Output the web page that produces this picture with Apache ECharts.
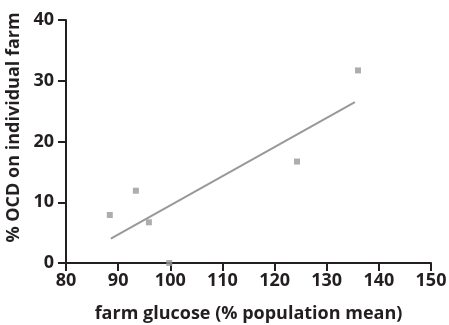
<!DOCTYPE html>
<html>
<head>
<meta charset="utf-8">
<script src="https://cdn.jsdelivr.net/npm/echarts@6/dist/echarts.min.js"></script>
<style>
  html, body { margin: 0; padding: 0; background: #fff; }
  #chart { width: 449px; height: 325px; }
</style>
</head>
<body>
<div id="chart"></div>
<script>
// farm glucose (% population mean) vs % OCD
var glucose = [88.4, 93.4, 95.9, 99.8, 124.3, 136.0];
var ocd = [7.9, 11.9, 6.7, 0.0, 16.7, 31.7];
var fitLine = [[88.6, 4.0], [135.4, 26.5]];

var points = glucose.map(function (g, i) { return [g, ocd[i]]; });

var ink = '#231f20';
var font = 'Open Sans';

var chart = echarts.init(document.getElementById('chart'));

var option = {
  animation: false,
  grid: {
    left: 66,
    right: 18,
    top: 20,
    bottom: 62,
    outerBoundsMode: 'none'
  },
  xAxis: {
    type: 'value',
    min: 80,
    max: 150,
    interval: 10,
    name: 'farm glucose (% population mean)',
    nameLocation: 'middle',
    nameGap: 42,
    nameTextStyle: { color: ink, fontFamily: font, fontWeight: 'bold', fontSize: 18 },
    axisLine: { lineStyle: { color: ink, width: 2 } },
    axisTick: { length: 8, lineStyle: { color: ink, width: 2 } },
    axisLabel: { color: ink, fontFamily: font, fontWeight: 'bold', fontSize: 18, margin: 9 },
    splitLine: { show: false }
  },
  yAxis: {
    type: 'value',
    min: 0,
    max: 40,
    interval: 10,
    name: '% OCD on individual farm',
    nameLocation: 'middle',
    nameGap: 38,
    nameTextStyle: { color: ink, fontFamily: font, fontWeight: 'bold', fontSize: 18, padding: [0, 0, 0, 28] },
    axisLine: { lineStyle: { color: ink, width: 2 } },
    axisTick: { length: 8, lineStyle: { color: ink, width: 2 } },
    axisLabel: { color: ink, fontFamily: font, fontWeight: 'bold', fontSize: 18, margin: 12 },
    splitLine: { show: false }
  },
  series: [{
    type: 'line',
    data: fitLine,
    symbol: 'none',
    lineStyle: { color: '#999999', width: 2 },
    silent: true
  }, {
    type: 'scatter',
    data: points,
    symbol: 'rect',
    symbolSize: 6,
    itemStyle: { color: '#999999' }
  }]
};

chart.setOption(option);
</script>
</body>
</html>
